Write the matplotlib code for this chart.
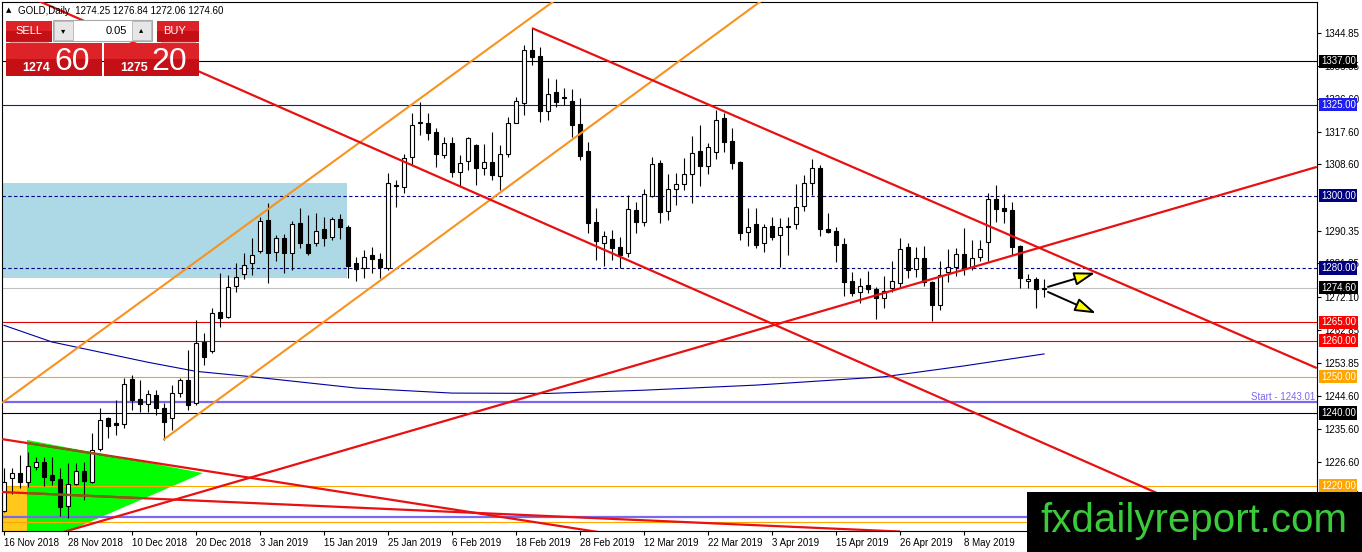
import numpy as np
import matplotlib
matplotlib.use("Agg")
import matplotlib.pyplot as plt
from matplotlib.patches import Rectangle, Polygon
import matplotlib.transforms as mtransforms

# ---------------- data ----------------
opens = [1213.05, 1222.0, 1223.4, 1221.05, 1225.2, 1226.6, 1222.9, 1221.7, 1214.3, 1220.3,
         1224.0, 1221.05, 1230.0, 1238.5, 1237.2, 1237.0, 1249.4, 1243.8, 1242.4, 1245.0,
         1241.3, 1238.6, 1245.5, 1249.1, 1242.7, 1259.5, 1257.0, 1268.0, 1266.4, 1275.0,
         1278.3, 1281.3, 1284.7, 1293.2, 1284.5, 1288.2, 1284.1, 1292.5, 1286.6, 1287.0,
         1290.7, 1288.5, 1293.4, 1291.2, 1281.3, 1279.9, 1283.6, 1282.4, 1279.9, 1302.9,
         1302.4, 1310.6, 1320.0, 1320.1, 1317.5, 1311.2, 1314.4, 1306.4, 1309.6, 1313.9,
         1307.5, 1309.3, 1305.5, 1311.6, 1320.1, 1325.6, 1340.2, 1338.5, 1323.4, 1328.6,
         1327.2, 1326.1, 1319.7, 1312.3, 1292.8, 1286.8, 1287.9, 1285.7, 1284.2, 1296.0,
         1292.6, 1299.9, 1308.9, 1295.8, 1301.7, 1303.1, 1305.9, 1312.3, 1308.2, 1311.9,
         1321.3, 1315.1, 1309.3, 1290.0, 1292.1, 1287.0, 1291.6, 1289.1, 1291.3, 1292.1,
         1297.2, 1303.4, 1307.5, 1290.9, 1290.2, 1286.6, 1276.4, 1273.3, 1275.3, 1274.2,
         1271.6, 1274.4, 1276.0, 1285.7, 1279.6, 1282.7, 1276.2, 1269.8, 1279.0, 1280.4,
         1283.8, 1280.4, 1283.0, 1287.1, 1299.0, 1296.5, 1296.0, 1286.1, 1276.5, 1277.1,
         1274.25]
highs = [1224.8, 1224.7, 1228.4, 1229.3, 1227.9, 1227.9, 1227.9, 1224.7, 1226.1, 1226.3,
         1226.6, 1234.4, 1241.3, 1239.0, 1243.6, 1249.6, 1250.5, 1249.1, 1246.4, 1246.4,
         1242.8, 1247.7, 1249.6, 1257.4, 1265.7, 1262.0, 1268.9, 1278.5, 1278.1, 1281.3,
         1284.1, 1288.2, 1294.2, 1297.9, 1289.1, 1289.3, 1293.1, 1296.5, 1294.6, 1295.3,
         1294.2, 1294.2, 1294.9, 1291.9, 1283.1, 1285.0, 1285.9, 1284.1, 1306.1, 1304.3,
         1311.6, 1322.7, 1325.9, 1322.9, 1318.6, 1316.2, 1316.2, 1311.2, 1316.2, 1314.2,
         1314.2, 1317.6, 1313.9, 1321.7, 1327.3, 1341.5, 1346.1, 1341.1, 1332.3, 1332.1,
         1329.6, 1329.3, 1326.8, 1314.7, 1296.5, 1290.3, 1290.5, 1288.5, 1300.1, 1298.3,
         1301.7, 1310.6, 1309.8, 1305.9, 1306.3, 1310.3, 1316.4, 1319.5, 1314.6, 1323.6,
         1322.7, 1318.5, 1309.5, 1296.7, 1296.5, 1292.1, 1294.0, 1293.7, 1294.0, 1303.2,
         1305.7, 1310.0, 1308.4, 1295.1, 1291.4, 1288.2, 1279.0, 1277.3, 1279.2, 1274.8,
         1277.8, 1282.0, 1288.2, 1286.8, 1285.7, 1286.1, 1276.5, 1282.0, 1285.2, 1285.4,
         1291.0, 1287.7, 1287.7, 1300.6, 1302.9, 1300.4, 1298.1, 1286.3, 1278.4, 1277.6,
         1276.84]
lows = [1212.7, 1217.6, 1219.2, 1219.7, 1224.3, 1219.9, 1220.1, 1211.6, 1210.95, 1220.1,
        1216.0, 1220.6, 1229.5, 1233.0, 1233.9, 1236.0, 1240.8, 1240.4, 1240.4, 1239.5,
        1232.5, 1235.3, 1244.5, 1240.8, 1242.2, 1253.3, 1256.5, 1263.8, 1266.1, 1273.5,
        1276.9, 1278.1, 1284.1, 1275.9, 1282.0, 1278.5, 1279.5, 1285.4, 1283.5, 1286.1,
        1286.1, 1287.7, 1287.9, 1277.2, 1276.5, 1277.2, 1278.5, 1277.2, 1279.5, 1296.9,
        1300.6, 1308.4, 1316.7, 1315.3, 1307.9, 1310.3, 1305.2, 1302.7, 1307.0, 1302.9,
        1305.7, 1304.3, 1301.5, 1310.7, 1319.9, 1322.2, 1336.0, 1320.4, 1320.8, 1324.5,
        1325.0, 1316.2, 1309.7, 1289.6, 1282.2, 1280.6, 1282.2, 1279.9, 1283.0, 1289.6,
        1291.6, 1299.7, 1292.4, 1293.3, 1297.4, 1301.5, 1298.0, 1302.6, 1305.9, 1310.0,
        1312.1, 1307.2, 1287.7, 1286.1, 1285.6, 1284.5, 1287.7, 1280.4, 1283.6, 1290.9,
        1295.7, 1300.2, 1288.8, 1289.6, 1281.8, 1272.3, 1272.3, 1270.4, 1273.0, 1265.9,
        1268.9, 1273.5, 1274.8, 1277.2, 1277.6, 1275.0, 1265.5, 1268.5, 1276.2, 1277.8,
        1278.0, 1279.5, 1282.0, 1282.0, 1292.8, 1292.3, 1283.6, 1274.4, 1274.4, 1268.9,
        1272.06]
closes = [1221.05, 1223.4, 1221.05, 1225.5, 1226.6, 1222.4, 1221.5, 1214.2, 1220.3, 1224.0,
          1221.3, 1229.8, 1238.0, 1236.4, 1236.8, 1247.9, 1243.6, 1242.4, 1245.2, 1241.3,
          1237.6, 1245.5, 1249.1, 1242.2, 1259.2, 1255.4, 1267.7, 1266.3, 1274.8, 1277.6,
          1280.8, 1283.6, 1293.0, 1284.1, 1288.2, 1284.2, 1292.1, 1286.8, 1284.1, 1290.3,
          1288.2, 1293.4, 1291.2, 1280.5, 1279.7, 1283.1, 1282.4, 1280.2, 1303.5, 1302.5,
          1310.3, 1319.6, 1320.2, 1317.2, 1311.4, 1314.4, 1306.4, 1308.9, 1315.8, 1307.5,
          1309.3, 1305.7, 1311.4, 1319.9, 1326.1, 1340.2, 1338.1, 1323.4, 1328.0, 1325.9,
          1326.9, 1319.5, 1310.9, 1292.5, 1287.5, 1288.8, 1285.4, 1283.6, 1296.2, 1292.8,
          1300.3, 1308.6, 1295.5, 1301.7, 1303.1, 1305.9, 1311.7, 1308.2, 1313.3, 1320.8,
          1314.9, 1309.1, 1289.8, 1291.2, 1286.4, 1291.2, 1288.7, 1291.2, 1291.5, 1296.9,
          1303.4, 1307.5, 1290.7, 1290.0, 1286.4, 1276.2, 1273.2, 1275.1, 1274.1, 1271.6,
          1273.7, 1276.4, 1285.2, 1279.5, 1282.7, 1276.2, 1269.8, 1278.1, 1280.4, 1283.8,
          1279.9, 1282.9, 1285.2, 1299.0, 1296.2, 1295.8, 1285.9, 1277.2, 1277.1, 1274.1,
          1274.60]

date_labels = ["16 Nov 2018", "28 Nov 2018", "10 Dec 2018", "20 Dec 2018", "3 Jan 2019",
               "15 Jan 2019", "25 Jan 2019", "6 Feb 2019", "18 Feb 2019", "28 Feb 2019",
               "12 Mar 2019", "22 Mar 2019", "3 Apr 2019", "15 Apr 2019", "26 Apr 2019",
               "8 May 2019"]
date_label_bars = [0, 8, 16, 24, 32, 40, 48, 56, 64, 72, 80, 88, 96, 104, 112, 120]

price_ticks = [1344.85, 1335.85, 1326.60, 1317.60, 1308.60, 1290.35, 1281.35,
               1272.10, 1262.85, 1253.85, 1244.60, 1235.60, 1226.60, 1217.35]

ma_bars = [0, 6, 12, 18, 24, 31, 44, 56, 68, 80, 94, 110, 120, 130]
ma_values = [1264.2, 1259.6, 1256.8, 1254.0, 1251.5, 1250.0, 1246.9, 1245.5, 1245.4,
             1246.3, 1247.7, 1250.0, 1253.0, 1256.3]

level_prices = [1337.00, 1325.00, 1300.00, 1280.00, 1274.60, 1265.00, 1260.00, 1250.00, 1240.00, 1220.00]
level_line_colors = ["#000000", "#1414C8", "#000080", "#000080", "#C0C0C0", "#E00000", "#E00000",
                     "#FFA500", "#000000", "#FFA500"]
level_styles = ["-", "-", "--", "--", "-", "-", "-", "-", "-", "-"]
level_label_bg = ["#000000", "#1E1EF0", "#000080", "#000080", "#000000", "#FF0000", "#FF0000",
                  "#FFA500", "#000000", "#FFA500"]

start_price = 1243.01
extra_slate_price = 1211.3
extra_orange_price = 1209.9

# trend lines (bar index, price)
red_lines = [((0, 1357.9), (160, 1202.5)),
             ((66, 1346.2), (164.1, 1252.4)),
             ((5, 1205.6), (164.1, 1307.9)),
             ((-0.25, 1232.8), (80, 1205.2)),
             ((-0.25, 1218.2), (112, 1207.3))]
orange_lines = [((-0.25, 1242.8), (70, 1355.7)),
                ((19.9, 1232.6), (96, 1355.9))]
blue_zone = ((-0.25, 1277.3), (42.9, 1303.5))
green_triangle = [(2.875, 1232.56), (24.875, 1223.45), (2.875, 1202.48)]
yellow_zone = ((-0.25, 1200.0), (2.875, 1220.0))
arrows = [((130.5, 1274.8), (136.4, 1278.7)),
          ((130.5, 1273.4), (136.5, 1267.5))]

# ---------------- figure ----------------
W, H = 1362, 552
fig = plt.figure(figsize=(W / 100, H / 100), dpi=100, facecolor="white")
L, R, T, B = 2, 1317, 2, 531
ax = fig.add_axes([L / W, (H - B) / H, (R - L) / W, (B - T) / H])
ax.set_facecolor("white")
ax.set_xlim(-0.25, 164.125)
ax.set_ylim(1207.45, 1353.4)

FONT = "Liberation Sans"

# background zones
(bx0, by0), (bx1, by1) = blue_zone
ax.add_patch(Rectangle((bx0, by0), bx1 - bx0, by1 - by0, fc="#ADD8E6", ec="none", zorder=0.5))
(yx0, yy0), (yx1, yy1) = yellow_zone
ax.add_patch(Rectangle((yx0, yy0), yx1 - yx0, yy1 - yy0, fc="#FFC81A", ec="none", zorder=0.5))
tri = Polygon(green_triangle, closed=True, fc="#00FF00", ec="none", zorder=0.6)
ax.add_patch(tri)

# horizontal levels
for p, c, ls in zip(level_prices, level_line_colors, level_styles):
    if ls == "--":
        ax.axhline(p, color=c, lw=0.8, dashes=(3, 2.2), zorder=1)
    else:
        ax.axhline(p, color=c, lw=0.8, zorder=1)
ax.axhline(start_price, color="#7B68EE", lw=1.6, zorder=1)
ax.axhline(extra_slate_price, color="#7B68EE", lw=1.6, zorder=1)
ax.axhline(extra_orange_price, color="#FFA500", lw=0.8, zorder=1)

# moving average
ax.plot(ma_bars, ma_values, color="#0000A0", lw=0.8, zorder=1.2)

# candles
x = np.arange(len(opens))
o = np.array(opens); c = np.array(closes)
ax.vlines(x, lows, highs, color="black", lw=0.8, zorder=2)
bottoms = np.minimum(o, c)
heights = np.maximum(np.abs(c - o), 0.12)
faces = ["white" if cc >= oo else "black" for oo, cc in zip(o, c)]
ax.bar(x, heights, bottom=bottoms, width=0.6, color=faces, edgecolor="black",
       linewidth=0.8, zorder=2.5)

# trend lines
for (x0, y0), (x1, y1) in orange_lines:
    ax.plot([x0, x1], [y0, y1], color="#F7931E", lw=1.5, zorder=3, solid_capstyle="butt")
for (x0, y0), (x1, y1) in red_lines:
    ax.plot([x0, x1], [y0, y1], color="#E81010", lw=1.6, zorder=3, solid_capstyle="butt")
    ln, = ax.plot([x0, x1], [y0, y1], color="#7A6414", lw=1.6, zorder=3.1, solid_capstyle="butt")
    ln.set_clip_path(tri)

# arrows
for (sx, sy), (tx, ty) in arrows:
    ax.annotate("", xy=(tx, ty), xytext=(sx, sy),
                arrowprops=dict(arrowstyle="-|>,head_length=0.75,head_width=0.24",
                                fc="#FFFF00", ec="black", lw=1.4, mutation_scale=17,
                                shrinkA=0, shrinkB=0), zorder=4)

# axes styling
for s in ax.spines.values():
    s.set_color("black"); s.set_linewidth(0.8)
ax.yaxis.tick_right()
ax.set_yticks(price_ticks)
ax.set_yticklabels([f"{v:.2f}" for v in price_ticks], fontsize=7, family=FONT)
ax.tick_params(axis="y", direction="out", length=3, width=0.8, pad=2, colors="black")
ax.set_xticks(date_label_bars)
ax.set_xticklabels(date_labels, fontsize=7, family=FONT)
for lbl in ax.get_xticklabels():
    lbl.set_horizontalalignment("left")
ax.tick_params(axis="x", direction="out", length=3, width=0.8, pad=2, colors="black")

# price labels on axis
trans = mtransforms.blended_transform_factory(ax.transAxes, ax.transData)
for p, bg in zip(level_prices, level_label_bg):
    ax.text(1.0 + 4 / (R - L), p, f"{p:.2f}", transform=trans, ha="left", va="center",
            fontsize=7, family=FONT, color="white", clip_on=False, zorder=20,
            bbox=dict(boxstyle="square,pad=0.16", fc=bg, ec="none"))
ax.text(1.0 - 2 / (R - L), start_price + 1.4, f"Start - {start_price:.2f}", transform=trans,
        ha="right", va="center", fontsize=7, family=FONT, color="#7B68EE", zorder=20)

# ---------------- overlay (trade panel, watermark) ----------------
ov = fig.add_axes([0, 0, 1, 1], zorder=10)
ov.set_xlim(0, W); ov.set_ylim(H, 0); ov.axis("off"); ov.patch.set_alpha(0)

ov.text(6, 10, "▲", fontsize=5, va="center", ha="left", family="DejaVu Sans")
ov.text(18, 10.5, "GOLD,Daily  1274.25 1276.84 1272.06 1274.60", fontsize=7, va="center",
        ha="left", family=FONT, color="black")

red_top, red_bot = "#DD2228", "#C40F16"
def red_box(x0, y0, w, h):
    ov.add_patch(Rectangle((x0, y0), w, h / 2, fc=red_top, ec="none"))
    ov.add_patch(Rectangle((x0, y0 + h / 2), w, h / 2, fc=red_bot, ec="none"))

red_box(6, 20.5, 46, 21)
ov.plot([10, 48], [41.5, 41.5], color="#F4A0A0", lw=0.8)
ov.text(28.5, 31, "SELL", color="white", fontsize=8, ha="center", va="center", family=FONT)
ov.add_patch(Rectangle((52.5, 20), 99.5, 20.5, fc="white", ec="#A8A8A8", lw=0.8))
ov.add_patch(Rectangle((53.5, 21), 19, 18.5, fc="#E6E6E6", ec="#B4B4B4", lw=0.6))
ov.add_patch(Rectangle((131.5, 21), 19, 18.5, fc="#E6E6E6", ec="#B4B4B4", lw=0.6))
ov.text(63, 30.5, "▾", fontsize=6, ha="center", va="center", family="DejaVu Sans")
ov.text(141, 30, "▴", fontsize=6, ha="center", va="center", family="DejaVu Sans")
ov.text(127, 30.5, "0.05", fontsize=8, ha="right", va="center", family=FONT)
red_box(157, 20.5, 42, 21)
ov.plot([161, 195], [41.5, 41.5], color="#F4A0A0", lw=0.8)
ov.text(175, 31, "BUY", color="white", fontsize=8, ha="center", va="center", family=FONT)

red_box(6, 42.5, 95.5, 33.5)
red_box(104, 42.5, 95, 33.5)
ov.text(22.5, 71, "1274", color="white", fontsize=9, fontweight="bold", ha="left",
        va="baseline", family=FONT)
ov.text(54, 70.5, "60", color="white", fontsize=23, ha="left", va="baseline", family=FONT)
ov.text(120.5, 71, "1275", color="white", fontsize=9, fontweight="bold", ha="left",
        va="baseline", family=FONT)
ov.text(151, 70.5, "20", color="white", fontsize=23, ha="left", va="baseline", family=FONT)

ov.add_patch(Rectangle((1027, 492), W - 1027, H - 492, fc="black", ec="none"))
ov.text(1194, 532, "fxdailyreport.com", color="#3ACB3A", fontsize=29, ha="center",
        va="baseline", family=FONT)

fig.savefig("out.png", dpi=100, facecolor="white")
